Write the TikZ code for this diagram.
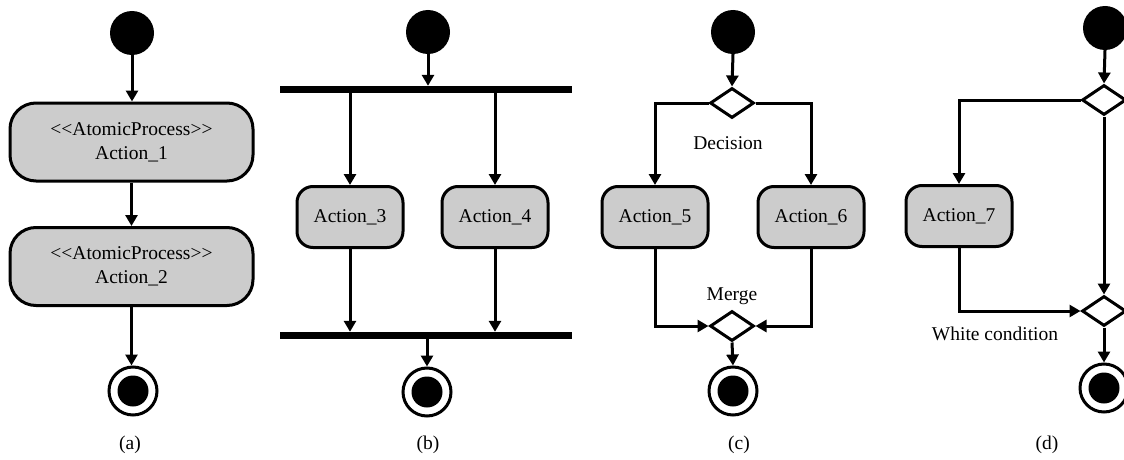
\documentclass[tikz,border=0pt]{standalone}
\usepackage{fontspec}
\setmainfont{Liberation Serif}
\usetikzlibrary{arrows.meta,shapes.geometric,calc}
\newcommand{\stereo}[1]{<{}<#1>{}>}
\tikzset{
  x=1pt,y=-1pt,
  every node/.style={font=\fontsize{19.5}{24}\selectfont},
  conn/.style={line width=3pt,-{Triangle[width=12pt,length=11pt]}},
  startstate/.style={circle,fill=black,inner sep=0,minimum size=44pt},
  endstate/.style={circle,draw=black,line width=3pt,fill=white,inner sep=0,minimum size=48pt,
    path picture={\fill[black] (path picture bounding box.center) circle (15.5pt);}},
  actbox/.style={draw=black,line width=3pt,fill=black!20,rounded corners=16pt,inner sep=0,
    minimum width=106pt,minimum height=61pt,align=center},
  bigbox/.style={actbox,rounded corners=26pt,minimum width=243pt,minimum height=78pt},
  decis/.style={diamond,draw=black,line width=3pt,fill=white,inner sep=0,minimum width=44pt,minimum height=30pt},
  syncbar/.style={rectangle,fill=black,inner sep=0,minimum width=292pt,minimum height=7pt},
  lbl/.style={inner sep=1pt}
}
\begin{document}
\begin{tikzpicture}
\useasboundingbox (0,0) rectangle (1124,460);
% (a)
\node[startstate] (s1) at (132,33) {};
\node[bigbox] (b1) at (131.5,142) {\stereo{AtomicProcess}\\Action\_1};
\node[bigbox] (b2) at (131.5,266.5) {\stereo{AtomicProcess}\\Action\_2};
\node[endstate] (e1) at (133,391) {};
\draw[conn] (s1.south) -- (s1.south |- b1.north);
\draw[conn] (b1.south) -- (b1.south |- b2.north);
\draw[conn] (b2.south) -- (b2.south |- e1.north);
\node[lbl] (la) at (130,445) {(a)};
% (b)
\node[startstate] (s2) at (428,32) {};
\node[syncbar] (f1) at (426,89.5) {};
\node[actbox] (a3) at (350,217) {Action\_3};
\node[actbox] (a4) at (495,217) {Action\_4};
\node[syncbar] (f2) at (426,335.5) {};
\node[endstate] (e2) at (427,392) {};
\draw[conn] (s2.south) -- (s2.south |- f1.north);
\draw[conn] (a3.north |- f1.south) -- (a3.north);
\draw[conn] (a4.north |- f1.south) -- (a4.north);
\draw[conn] (a3.south) -- (a3.south |- f2.north);
\draw[conn] (a4.south) -- (a4.south |- f2.north);
\draw[conn] (e2.north |- f2.south) -- (e2.north);
\node[lbl] (lb) at (428,445) {(b)};
% (c)
\node[startstate] (s3) at (733,32) {};
\node[decis] (d1) at (732,103) {};
\node[lbl] (dl) at (728,143) {Decision};
\node[actbox] (a5) at (655,217) {Action\_5};
\node[actbox] (a6) at (811,217) {Action\_6};
\node[decis] (m1) at (732,326) {};
\node[lbl] (ml) at (732,296) {Merge};
\node[endstate] (e3) at (733,391) {};
\draw[conn] (s3.south) -- (d1.north);
\draw[conn] (d1.west) -| (a5.north);
\draw[conn] (d1.east) -| (a6.north);
\draw[conn] (a5.south) |- (m1.west);
\draw[conn] (a6.south) |- (m1.east);
\draw[conn] (m1.south) -- (e3.north);
\node[lbl] (lc) at (739,445) {(c)};
% (d)
\node[startstate] (s4) at (1105,28) {};
\node[decis] (d2) at (1104,100) {};
\node[actbox] (a7) at (959,216) {Action\_7};
\node[decis] (m2) at (1104,311) {};
\node[lbl] (wl) at (995,334) {White condition};
\node[endstate] (e4) at (1104,388) {};
\draw[conn] (s4.south) -- (d2.north);
\draw[conn] (d2.west) -| (a7.north);
\draw[conn] (d2.south) -- (m2.north);
\draw[conn] (a7.south) |- (m2.west);
\draw[conn] (m2.south) -- (e4.north);
\node[lbl] (ld) at (1047,445) {(d)};
\end{tikzpicture}
\end{document}
